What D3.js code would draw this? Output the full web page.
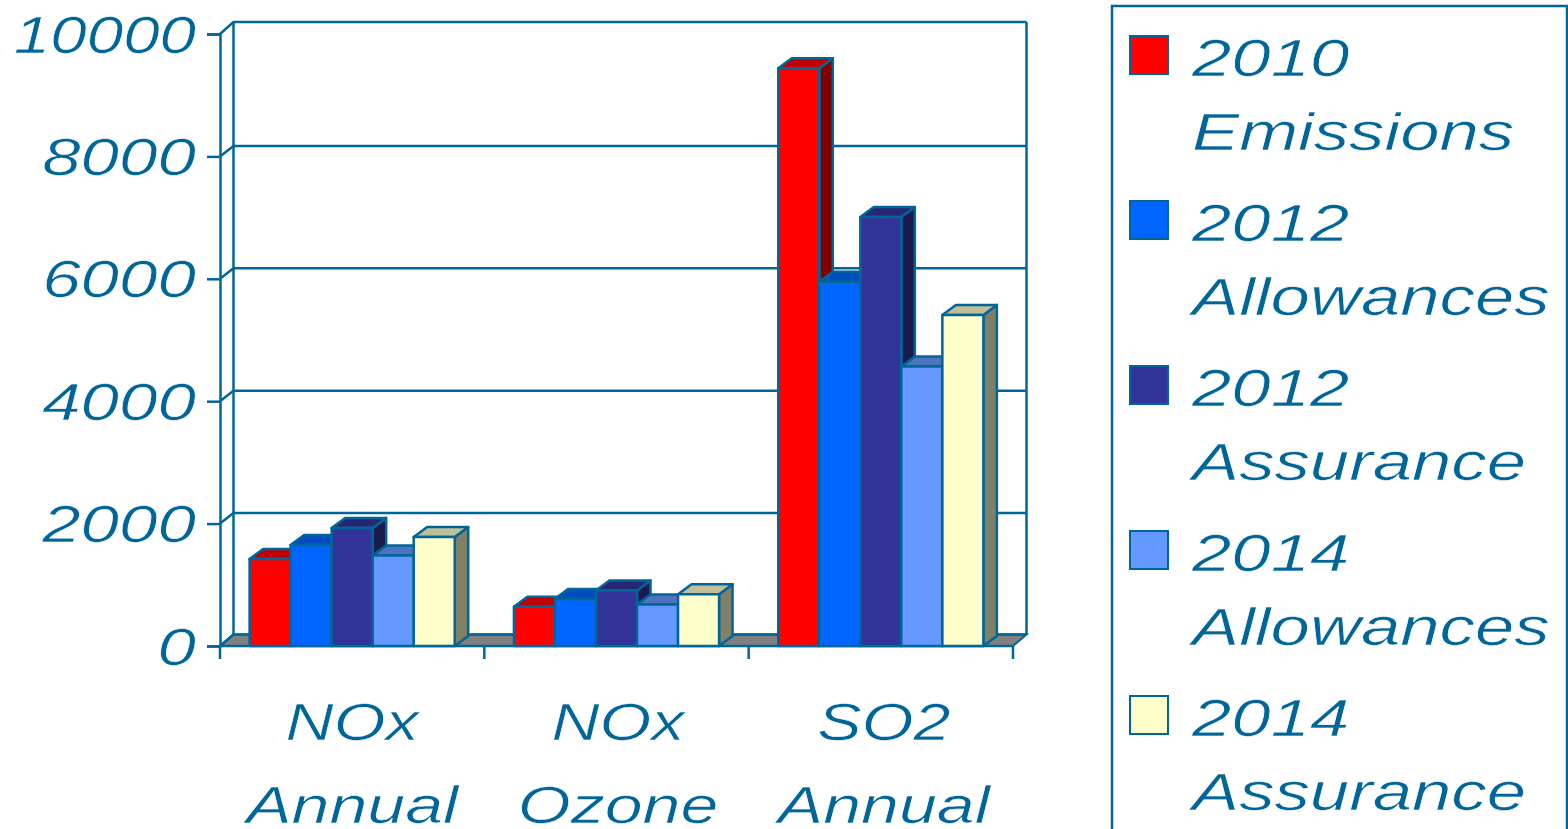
<!DOCTYPE html>
<html>
<head>
<meta charset="utf-8">
<script src="https://cdn.jsdelivr.net/npm/d3@7"></script>
<style>
  html, body { margin: 0; padding: 0; background: #fff; overflow: hidden; }
  text { font-family: "Liberation Sans", Arial, sans-serif; font-style: italic; fill: #006699; stroke: #fff; stroke-width: 0.6; paint-order: fill stroke; }
</style>
</head>
<body>
<script>
const categories = [["NOx", "Annual"], ["NOx", "Ozone"], ["SO2", "Annual"]];
const seriesNames = [["2010", "Emissions"], ["2012", "Allowances"], ["2012", "Assurance"], ["2014", "Allowances"], ["2014", "Assurance"]];
const emissions2010 = [1420, 640, 9440];
const allowances2012 = [1650, 770, 5950];
const assurance2012 = [1930, 905, 7010];
const allowances2014 = [1480, 680, 4565];
const assurance2014 = [1780, 845, 5410];
const seriesValues = [emissions2010, allowances2012, assurance2012, allowances2014, assurance2014];
const yTicks = [0, 2000, 4000, 6000, 8000, 10000];
const frontColors = ["#ff0000", "#0066ff", "#333399", "#6699ff", "#ffffcc"];
const topColors = ["#bf0000", "#004dbf", "#262673", "#4d73bf", "#bfbf99"];
const sideColors = ["#800000", "#003380", "#1a1a4d", "#334d80", "#808066"];

const width = 1568, height = 829;
const line = "#006699";
const depthX = 13.5, depthY = 10.5, barDx = 13.5, barDy = 10;
const stretch = 1.36, catStretch = 1.28;

const svg = d3.select("body").append("svg")
  .attr("width", width).attr("height", height)
  .style("display", "block");

const xScale = d3.scaleBand().domain(d3.range(categories.length)).range([220, 1013]);
const seriesScale = d3.scaleBand().domain(d3.range(seriesNames.length))
  .range([xScale.bandwidth() * 0.112, xScale.bandwidth() * 0.888]);
const yScale = d3.scaleLinear().domain([0, 10000]).range([646, 34]);

const poly = (pts) => pts.map((p) => p.join(",")).join(" ");

// walls and floor
const right = xScale.range()[1], left = xScale.range()[0], base = yScale(0);
const wallTop = yScale(10000) - 12, wallBottom = base - 11.5;
svg.append("polygon")
  .attr("points", poly([[left, base], [left + depthX, wallBottom], [right + depthX, wallBottom], [right, base]]))
  .attr("fill", "#808080").attr("stroke", line).attr("stroke-width", 2);

const walls = svg.append("g").attr("fill", "none").attr("stroke", line).attr("stroke-width", 2.5);
yTicks.forEach((t) => {
  const y = yScale(t);
  const by = t === 10000 ? wallTop : t === 0 ? wallBottom : y - depthY;
  walls.append("polyline")
    .attr("points", poly([[left, y], [left + depthX, by], [right + depthX, by]]));
});
walls.append("line").attr("x1", left + depthX).attr("x2", left + depthX)
  .attr("y1", wallTop).attr("y2", wallBottom);
walls.append("line").attr("x1", right + depthX).attr("x2", right + depthX)
  .attr("y1", wallTop).attr("y2", wallBottom);

// axes
const yAxis = d3.axisLeft(yScale).tickValues(yTicks).tickSize(13).tickPadding(10).tickFormat((d) => d);
const gy = svg.append("g").attr("transform", "translate(" + left + ",0)").call(yAxis);
gy.selectAll("path, line").attr("stroke", line).attr("stroke-width", 2.5);
gy.selectAll("text")
  .attr("dy", null).attr("x", null)
  .attr("text-anchor", "end")
  .attr("font-size", 52)
  .attr("transform", (d) => "translate(-24,18) scale(" + (d === 10000 ? 1.26 : 1.33) + ",1)");

const gx = svg.append("g").attr("transform", "translate(0," + base + ")");
gx.selectAll("line").data(d3.range(categories.length + 1)).enter().append("line")
  .attr("x1", (d) => left + d * xScale.step()).attr("x2", (d) => left + d * xScale.step())
  .attr("y1", 0).attr("y2", 13)
  .attr("stroke", line).attr("stroke-width", 2.5);
svg.append("line").attr("x1", left).attr("x2", right).attr("y1", base).attr("y2", base)
  .attr("stroke", line).attr("stroke-width", 2.5);

// bars, left to right so each front covers the side of the one before
categories.forEach((c, ci) => {
  const g = svg.append("g").attr("stroke", line).attr("stroke-width", 2.5).attr("stroke-linejoin", "round");
  seriesValues.forEach((vals, si) => {
    const x0 = xScale(ci) + seriesScale(si), x1 = x0 + seriesScale.bandwidth();
    const y = yScale(vals[ci]);
    g.append("polygon").attr("fill", sideColors[si])
      .attr("points", poly([[x1, y], [x1 + barDx, y - barDy], [x1 + barDx, base - barDy], [x1, base]]));
    g.append("polygon").attr("fill", topColors[si])
      .attr("points", poly([[x0, y], [x0 + barDx, y - barDy], [x1 + barDx, y - barDy], [x1, y]]));
    g.append("rect").attr("fill", frontColors[si])
      .attr("x", x0).attr("y", y).attr("width", x1 - x0).attr("height", base - y);
  });
});

// category labels
const stretched = (g, str, x, y, anchor, sx) => g.append("text")
  .attr("text-anchor", anchor).attr("font-size", 52)
  .attr("transform", "translate(" + x + "," + y + ") scale(" + sx + ",1)")
  .text(str);

categories.forEach((c, i) => {
  const cx = xScale(i) + xScale.bandwidth() / 2 + i * 1.5;
  stretched(svg, c[0], cx, 740, "middle", catStretch);
  stretched(svg, c[1], cx, 823, "middle", catStretch + 0.03);
});

// legend
const legend = svg.append("g");
legend.append("rect").attr("x", 1112).attr("y", 6).attr("width", 455).attr("height", 840)
  .attr("fill", "none").attr("stroke", line).attr("stroke-width", 2.5);
seriesNames.forEach((s, i) => {
  const y = 36 + i * 165;
  legend.append("rect").attr("x", 1130).attr("y", y).attr("width", 38).attr("height", 38)
    .attr("fill", frontColors[i]).attr("stroke", line).attr("stroke-width", 2);
  stretched(legend, s[0], 1192, y + 40, "start", stretch);
  stretched(legend, s[1], 1192, y + 114, "start", stretch);
});
</script>
</body>
</html>
